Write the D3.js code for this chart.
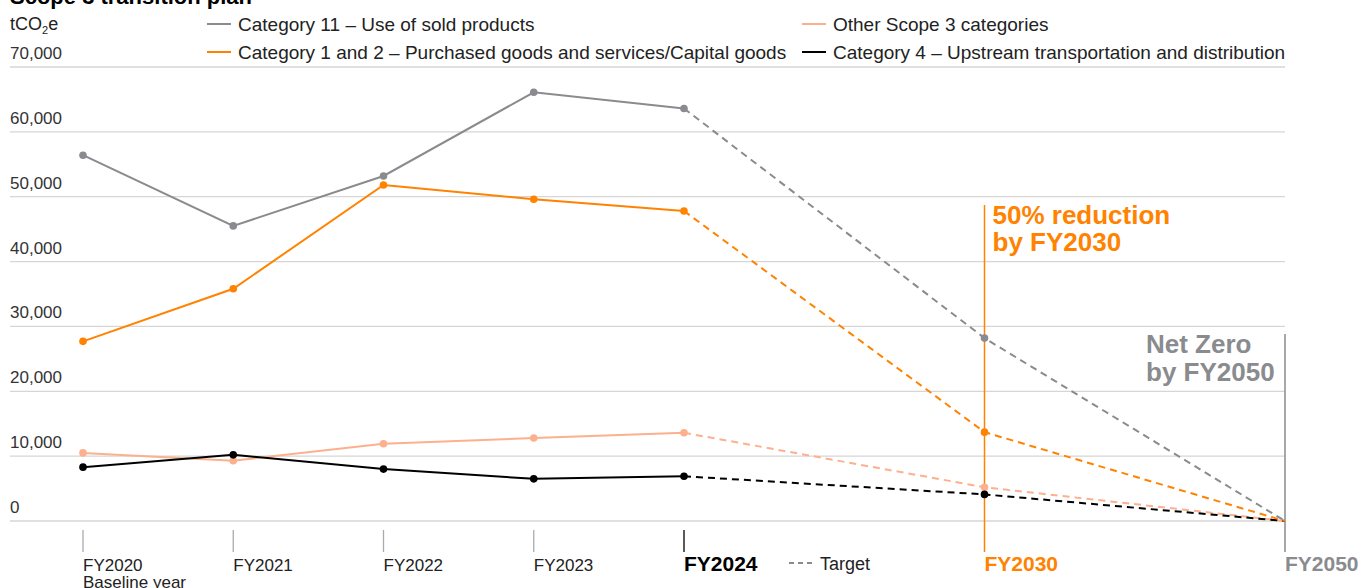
<!DOCTYPE html>
<html>
<head>
<meta charset="utf-8">
<script src="https://cdn.jsdelivr.net/npm/d3@7"></script>
<style>
  body { margin: 0; background: #fff; }
  svg { font-family: "Liberation Sans", Arial, Helvetica, sans-serif; }
</style>
</head>
<body>
<div id="chart"></div>
<script>
// years on the x axis and their slot positions (gaps before 2030 and 2050)
const years = ['FY2020', 'FY2021', 'FY2022', 'FY2023', 'FY2024', 'FY2030', 'FY2050'];
const slots = [0, 1, 2, 3, 4, 6, 8];
const yTicks = [0, 10000, 20000, 30000, 40000, 50000, 60000, 70000];

// tCO2e per category
const cat11 = [56400, 45500, 53200, 66100, 63600, 28200, 0];
const cat1and2 = [27700, 35800, 51800, 49600, 47800, 13700, 0];
const otherCats = [10500, 9300, 11900, 12800, 13600, 5200, 0];
const cat4 = [8300, 10200, 8000, 6500, 6900, 4100, 0];

const seriesNames = [
  'Category 11 – Use of sold products',
  'Category 1 and 2 – Purchased goods and services/Capital goods',
  'Other Scope 3 categories',
  'Category 4 – Upstream transportation and distribution',
];

const GREY = '#898b8e';
const ORANGE = '#ff8200';
const SALMON = '#fcb08e';
const BLACK = '#000';

const width = 1362;
const height = 588;
const font = 17;

const svg = d3.select('#chart').append('svg')
  .attr('width', width)
  .attr('height', height);

const x = d3.scaleLinear().domain([0, 8]).range([83, 1285]);
const y = d3.scaleLinear().domain([0, 70000]).range([521, 67]);

// title (clipped at the top like the original)
svg.append('text')
  .attr('x', 10).attr('y', 4)
  .attr('font-size', 22).attr('font-weight', 'bold')
  .text('Scope 3 transition plan');

svg.append('text')
  .attr('x', 10).attr('y', 30)
  .attr('font-size', 18).attr('fill', '#222')
  .html('tCO<tspan font-size="11" dy="4">2</tspan><tspan dy="-4">e</tspan>');

// gridlines and y labels
const grid = svg.append('g');
grid.selectAll('line')
  .data(yTicks)
  .join('line')
  .attr('x1', 10).attr('x2', 1285)
  .attr('y1', (d) => y(d)).attr('y2', (d) => y(d))
  .attr('stroke', '#d6d6d6').attr('stroke-width', 1.3);

grid.selectAll('text')
  .data(yTicks)
  .join('text')
  .attr('x', 10).attr('y', (d) => y(d) - 8)
  .attr('font-size', 17).attr('fill', '#333')
  .text((d) => d3.format(',')(d));

// legend
const legend = [
  { name: seriesNames[0], color: GREY, lx: 207, ly: 24 },
  { name: seriesNames[1], color: ORANGE, lx: 207, ly: 52 },
  { name: seriesNames[2], color: SALMON, lx: 802, ly: 24 },
  { name: seriesNames[3], color: BLACK, lx: 802, ly: 52 },
];
const lg = svg.append('g').selectAll('g').data(legend).join('g');
lg.append('line')
  .attr('x1', (d) => d.lx).attr('x2', (d) => d.lx + 24)
  .attr('y1', (d) => d.ly).attr('y2', (d) => d.ly)
  .attr('stroke', (d) => d.color).attr('stroke-width', 2);
lg.append('text')
  .attr('x', (d) => d.lx + 31).attr('y', (d) => d.ly + 7)
  .attr('font-size', 19).attr('fill', '#222')
  .text((d) => d.name);

// reference lines for FY2030 and FY2050
svg.append('line')
  .attr('x1', x(6)).attr('x2', x(6))
  .attr('y1', 205).attr('y2', 552)
  .attr('stroke', ORANGE).attr('stroke-width', 1.5);
svg.append('line')
  .attr('x1', x(8)).attr('x2', x(8))
  .attr('y1', 334).attr('y2', 552)
  .attr('stroke', GREY).attr('stroke-width', 1.5);

svg.append('text')
  .attr('font-size', 26).attr('font-weight', 'bold')
  .attr('fill', ORANGE)
  .selectAll('tspan')
  .data(['50% reduction', 'by FY2030'])
  .join('tspan')
  .attr('x', x(6) + 8)
  .attr('y', (d, i) => 224 + i * 27)
  .text((d) => d);

svg.append('text')
  .attr('font-size', 26).attr('font-weight', 'bold')
  .attr('fill', GREY)
  .selectAll('tspan')
  .data(['Net Zero', 'by FY2050'])
  .join('tspan')
  .attr('x', 1146)
  .attr('y', (d, i) => 353 + i * 28)
  .text((d) => d);

// x ticks and labels
const xStyle = [
  { color: '#222', weight: 'normal', size: font },
  { color: '#222', weight: 'normal', size: font },
  { color: '#222', weight: 'normal', size: font },
  { color: '#222', weight: 'normal', size: font },
  { color: BLACK, weight: 'bold', size: 21 },
  { color: ORANGE, weight: 'bold', size: 21 },
  { color: GREY, weight: 'bold', size: 21 },
];
const xt = svg.append('g').selectAll('g').data(years).join('g');
xt.filter((d, i) => i < 5).append('line')
  .attr('x1', (d, i) => x(slots[i])).attr('x2', (d, i) => x(slots[i]))
  .attr('y1', 530).attr('y2', 552)
  .attr('stroke', (d, i) => (i === 4 ? BLACK : '#aaa'))
  .attr('stroke-width', 1.3);
xt.append('text')
  .attr('x', (d, i) => x(slots[i]))
  .attr('y', 571)
  .attr('font-size', (d, i) => xStyle[i].size)
  .attr('font-weight', (d, i) => xStyle[i].weight)
  .attr('fill', (d, i) => xStyle[i].color)
  .text((d) => d);

svg.append('text')
  .attr('x', x(0)).attr('y', 588)
  .attr('font-size', font).attr('fill', '#222')
  .text('Baseline year');

// target legend
svg.append('line')
  .attr('x1', 789).attr('x2', 815)
  .attr('y1', 563).attr('y2', 563)
  .attr('stroke', GREY).attr('stroke-width', 2)
  .attr('stroke-dasharray', '5,4');
svg.append('text')
  .attr('x', 820).attr('y', 570)
  .attr('font-size', 18).attr('fill', '#222')
  .text('Target');

// series lines
const series = [
  { values: otherCats, color: SALMON },
  { values: cat4, color: BLACK },
  { values: cat11, color: GREY },
  { values: cat1and2, color: ORANGE },
];

const line = d3.line()
  .x((d) => x(d.slot))
  .y((d) => y(d.value));

series.forEach((s) => {
  const pts = s.values.map((v, i) => ({ slot: slots[i], value: v }));
  const g = svg.append('g');
  g.append('path')
    .attr('d', line(pts.slice(0, 5)))
    .attr('fill', 'none')
    .attr('stroke', s.color).attr('stroke-width', 2);
  g.append('path')
    .attr('d', line(pts.slice(4)))
    .attr('fill', 'none')
    .attr('stroke', s.color).attr('stroke-width', 2)
    .attr('stroke-dasharray', '7,5');
  g.selectAll('circle')
    .data(pts.slice(0, 6))
    .join('circle')
    .attr('cx', (d) => x(d.slot))
    .attr('cy', (d) => y(d.value))
    .attr('r', 3.8)
    .attr('fill', s.color);
});
</script>
</body>
</html>
